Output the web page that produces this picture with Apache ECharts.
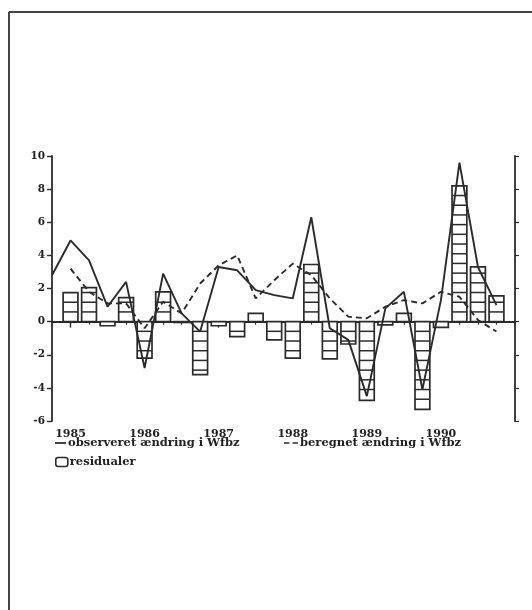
<!DOCTYPE html>
<html>
<head>
<meta charset="utf-8">
<script src="https://cdn.jsdelivr.net/npm/echarts@6/dist/echarts.min.js"></script>
<style>
html,body{margin:0;padding:0;background:#fff;}
#chart{width:532px;height:610px;}
</style>
</head>
<body>
<div id="chart"></div>
<script>
// Quarters: 1984Q4 ... 1991Q1 (axis runs from 1984Q4 to 1991Q1)
var categories = ['1984Q4',
  '1985Q1','1985Q2','1985Q3','1985Q4',
  '1986Q1','1986Q2','1986Q3','1986Q4',
  '1987Q1','1987Q2','1987Q3','1987Q4',
  '1988Q1','1988Q2','1988Q3','1988Q4',
  '1989Q1','1989Q2','1989Q3','1989Q4',
  '1990Q1','1990Q2','1990Q3','1990Q4',
  '1991Q1'];
// observeret ændring i Wfbz
var observed = [2.8,
  4.9, 3.7, 0.9, 2.4,
  -2.8, 2.9, 0.5, -0.6,
  3.3, 3.1, 1.9, 1.6,
  1.4, 6.3, -0.4, -1.1,
  -4.5, 0.8, 1.8, -4.1,
  1.3, 9.6, 3.3, 1.0,
  null];
// beregnet ændring i Wfbz
var computed = [null,
  3.2, 1.8, 1.1, 1.1,
  -0.4, 1.2, 0.5, 2.3,
  3.4, 4.0, 1.4, 2.5,
  3.5, 2.8, 1.4, 0.3,
  0.2, 0.9, 1.3, 1.1,
  1.8, 1.5, 0.1, -0.6,
  null];
// residualer (1985Q1 ... 1990Q4)
var residuals = [
  1.75, 2.05, -0.25, 1.45,
  -2.2, 1.8, -0.05, -3.2,
  -0.25, -0.9, 0.5, -1.1,
  -2.2, 3.45, -2.25, -1.35,
  -4.75, -0.2, 0.5, -5.3,
  -0.35, 8.2, 3.3, 1.55];
var yTicks = {min: -6, max: 10, interval: 2};
var legendNames = ['observeret ændring i Wfbz', 'beregnet ændring i Wfbz', 'residualer'];

var ink = '#2b2b2b';
var fontFam = '"DejaVu Serif", serif';

var residData = residuals.map(function (v, i) { return [i + 1, v]; });

function renderResid(params, api) {
  var xi = api.value(0), v = api.value(1);
  var p0 = api.coord([xi, 0]);
  var p1 = api.coord([xi, v]);
  var w = api.size([1, 0])[0] * 0.8;
  var top = Math.min(p0[1], p1[1]);
  var h = Math.abs(p1[1] - p0[1]);
  var x0 = p0[0] - w / 2;
  var children = [{
    type: 'rect',
    shape: {x: x0, y: top, width: w, height: h},
    style: {fill: '#fff', stroke: ink, lineWidth: 1.7}
  }];
  var step = 9.7;
  var dir = v >= 0 ? -1 : 1;
  for (var k = 1; k * step < h - 2; k++) {
    var yy = p0[1] + dir * k * step;
    children.push({
      type: 'line',
      shape: {x1: x0, y1: yy, x2: x0 + w, y2: yy},
      style: {stroke: ink, lineWidth: 1.5}
    });
  }
  return {type: 'group', children: children};
}

var legendText = {fontFamily: fontFam, fontWeight: 'bold', fontSize: 11.5, color: '#222', padding: [0, 0, 0, -3]};

var chart = echarts.init(document.getElementById('chart'), null, {renderer: 'canvas'});
chart.setOption({
  animation: false,
  backgroundColor: '#fff',
  textStyle: {fontFamily: fontFam},
  grid: {left: 52, right: 17, top: 156, bottom: 189, containLabel: false},
  legend: [{
    left: 55, top: 437, padding: 0, itemWidth: 11, itemHeight: 2,
    data: [{name: legendNames[0], icon: 'path://M0,0h10v1.6h-10z',
      itemStyle: {color: ink, borderWidth: 0}}],
    textStyle: legendText
  }, {
    left: 284, top: 437, padding: 0, itemWidth: 14, itemHeight: 2,
    data: [{name: legendNames[1], icon: 'path://M0,0h5v1.6h-5z M8,0h5v1.6h-5z',
      itemStyle: {color: ink, borderWidth: 0}}],
    textStyle: legendText
  }, {
    left: 55, top: 456, padding: 0, itemWidth: 12, itemHeight: 9,
    data: [{name: legendNames[2], icon: 'roundRect',
      itemStyle: {color: '#fff', borderColor: ink, borderWidth: 1.6}}],
    textStyle: legendText
  }],
  xAxis: [{
    type: 'category', data: categories, boundaryGap: false,
    axisLine: {lineStyle: {color: ink, width: 1.8}},
    axisTick: {show: true, interval: 0, length: 3, lineStyle: {color: ink, width: 1.2}},
    axisLabel: {show: false},
    splitLine: {show: false}
  }, {
    type: 'category', data: categories, boundaryGap: false, position: 'bottom', gridIndex: 0,
    axisLine: {show: false},
    axisTick: {show: true, length: 6, lineStyle: {color: ink, width: 1.4},
      interval: function (i) { return i % 4 === 1 && i < categories.length - 1; }},
    axisLabel: {show: true, margin: 8, color: '#222', fontFamily: fontFam, fontWeight: 'bold', fontSize: 11,
      interval: function (i) { return i % 4 === 1 && i < categories.length - 1; },
      formatter: function (v) { return v.slice(0, 4); }},
    splitLine: {show: false}
  }],
  yAxis: [{
    type: 'value', min: yTicks.min, max: yTicks.max, interval: yTicks.interval,
    axisLine: {show: true, lineStyle: {color: ink, width: 1.8}},
    axisTick: {show: true, length: 5, lineStyle: {color: ink, width: 1.4}},
    axisLabel: {color: '#222', fontFamily: fontFam, fontWeight: 'bold', fontSize: 10.5, margin: 7},
    splitLine: {show: false}
  }, {
    type: 'value', position: 'right', min: yTicks.min, max: yTicks.max, interval: yTicks.interval,
    axisLine: {show: true, lineStyle: {color: ink, width: 1.8}},
    axisTick: {show: true, length: 4, lineStyle: {color: ink, width: 1.2}},
    axisLabel: {show: false},
    splitLine: {show: false}
  }],
  series: [{
    name: legendNames[2], type: 'custom', renderItem: renderResid,
    data: residData, xAxisIndex: 0, yAxisIndex: 0, z: 2,
    itemStyle: {color: '#fff', borderColor: ink}
  }, {
    name: legendNames[0], type: 'line', data: observed, symbol: 'none', z: 5,
    lineStyle: {color: ink, width: 1.9, type: 'solid'}, itemStyle: {color: ink}
  }, {
    name: legendNames[1], type: 'line', data: computed, symbol: 'none', z: 5,
    lineStyle: {color: ink, width: 1.9, type: [6, 4]}, itemStyle: {color: ink}
  }],
  graphic: [{
    type: 'line', shape: {x1: 9, y1: 12, x2: 9, y2: 610},
    style: {stroke: '#444', lineWidth: 2}
  }, {
    type: 'line', shape: {x1: 9, y1: 12, x2: 532, y2: 12},
    style: {stroke: '#444', lineWidth: 2}
  }]
});
</script>
</body>
</html>
